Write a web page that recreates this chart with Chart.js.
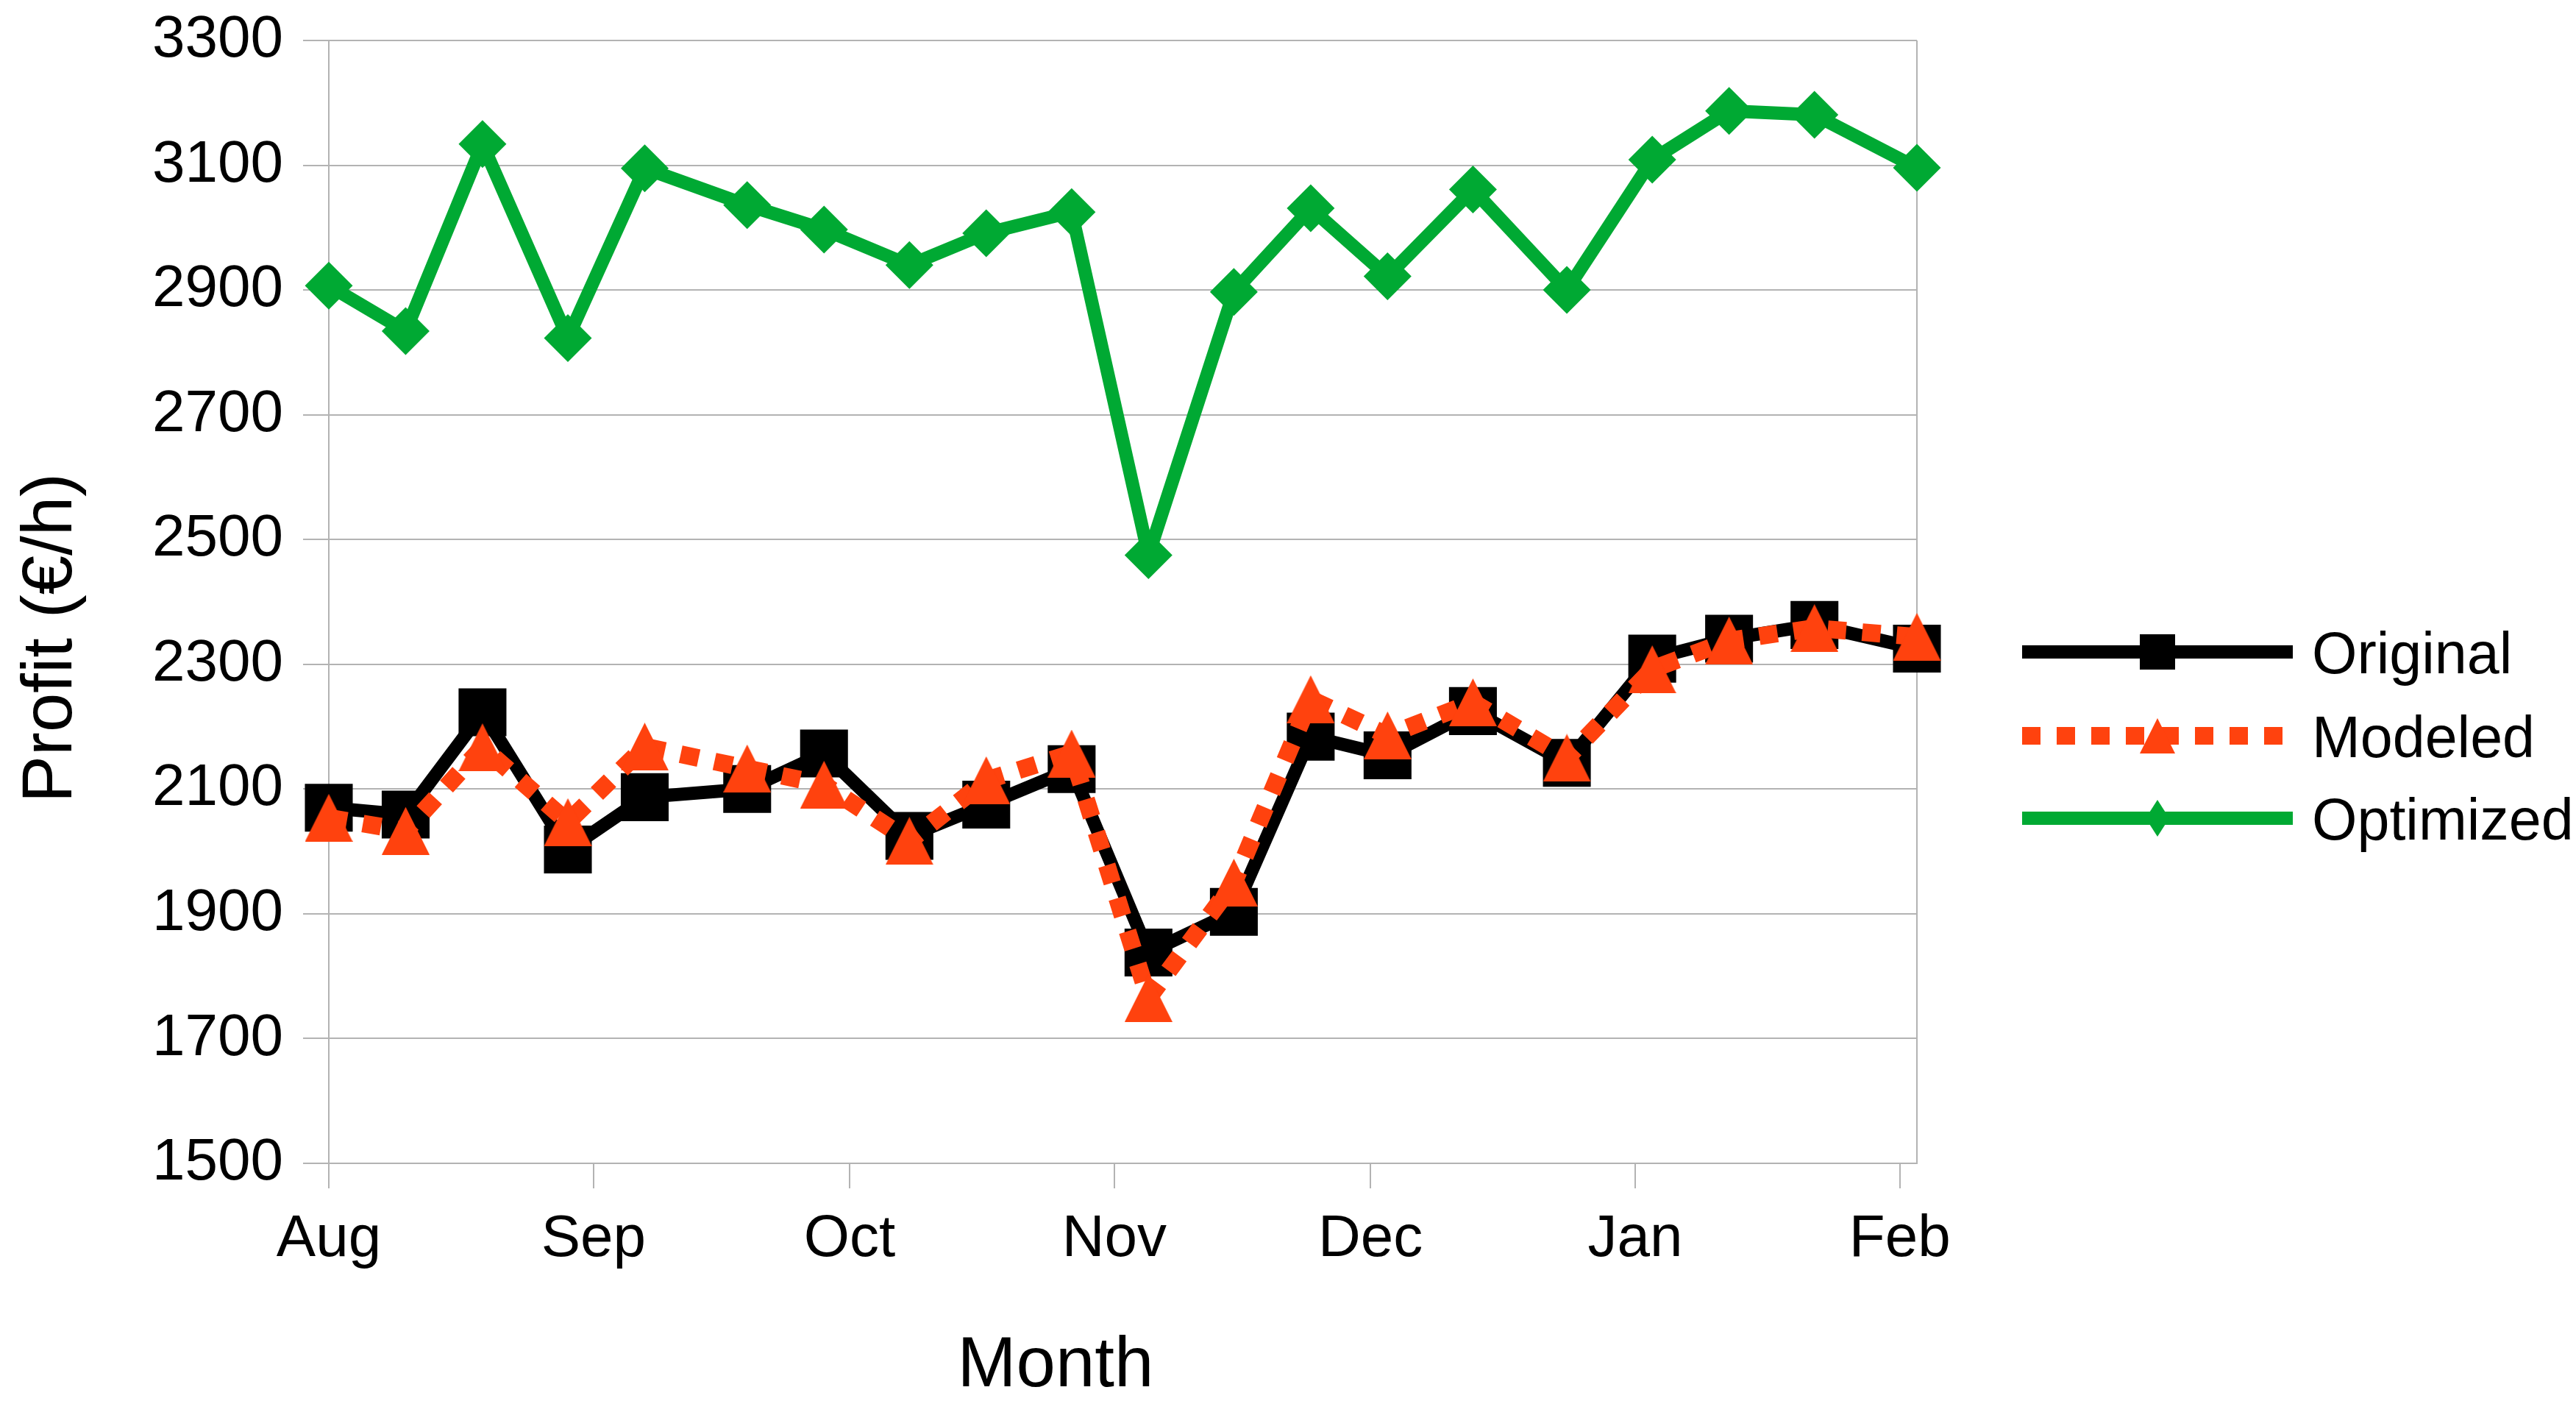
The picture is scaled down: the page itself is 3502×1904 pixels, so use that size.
<!DOCTYPE html>
<html>
<head>
<meta charset="utf-8">
<script src="https://cdn.jsdelivr.net/npm/chart.js@4.4.0/dist/chart.umd.min.js"></script>
<style>
  body { margin: 0; background: #fff; }
  canvas { display: block; }
</style>
</head>
<body>
<canvas id="chart" width="3502" height="1904"></canvas>
<script>
// month ticks, as day offsets from 1 Aug
const monthLabels = ['Aug', 'Sep', 'Oct', 'Nov', 'Dec', 'Jan', 'Feb'];
const monthStarts = [0, 31, 61, 92, 122, 153, 184];

// sample dates (days after 1 Aug)
const days = [0, 9, 18, 28, 37, 49, 58, 68, 77, 87, 96, 106, 115, 124, 134, 145, 155, 164, 174, 186];

const original  = [2070, 2059, 2223, 2003, 2087, 2100, 2157, 2025, 2075, 2132, 1838, 1903, 2184, 2154, 2225, 2142, 2309, 2341, 2363, 2325];
const modeled   = [2054, 2033, 2167, 2047, 2168, 2133, 2107, 2017, 2114, 2157, 1765, 1950, 2244, 2186, 2239, 2150, 2292, 2338, 2358, 2344];
const optimized = [2907, 2834, 3134, 2823, 3095, 3036, 2997, 2940, 2991, 3025, 2475, 2897, 3031, 2922, 3061, 2900, 3109, 3187, 3181, 3096];

const yMin = 1500, yMax = 3300, yStep = 200;

const FONT = "'Liberation Sans', Arial, sans-serif";
const GRID = '#b3b3b3';
const BLACK = '#000000';
const ORANGE = '#ff420e';
const GREEN = '#00a933';

function toPoints(values) {
    return values.map((v, i) => ({x: days[i], y: v}));
}

// triangle marker, centred on its box like the original
function triangleImage(w, h, color) {
    const c = document.createElement('canvas');
    c.width = w;
    c.height = h;
    const g = c.getContext('2d');
    g.fillStyle = color;
    g.beginPath();
    g.moveTo(w / 2, 0);
    g.lineTo(w, h);
    g.lineTo(0, h);
    g.closePath();
    g.fill();
    return c;
}

function drawMarker(ctx, kind, x, y, color) {
    ctx.fillStyle = color;
    ctx.beginPath();
    if (kind === 'square') {
        ctx.rect(x - 24, y - 24, 48, 48);
    } else if (kind === 'triangle') {
        ctx.moveTo(x, y - 24);
        ctx.lineTo(x + 24, y + 24);
        ctx.lineTo(x - 24, y + 24);
    } else {
        ctx.moveTo(x, y - 25);
        ctx.lineTo(x + 16, y);
        ctx.lineTo(x, y + 25);
        ctx.lineTo(x - 16, y);
    }
    ctx.closePath();
    ctx.fill();
}

const legendMarkers = ['square', 'triangle', 'diamond'];

const framePlugin = {
    id: 'frame',
    beforeDatasetsDraw(chart) {
        const {ctx, chartArea: a} = chart;
        ctx.save();
        ctx.strokeStyle = GRID;
        ctx.lineWidth = 2;
        ctx.beginPath();
        ctx.moveTo(a.right, a.top);
        ctx.lineTo(a.right, a.bottom);
        ctx.stroke();
        ctx.restore();
    },
    afterDraw(chart) {
        const ctx = chart.ctx;
        ctx.save();
        ctx.fillStyle = '#000';
        ctx.font = '96px ' + FONT;
        ctx.textAlign = 'center';
        ctx.textBaseline = 'alphabetic';
        ctx.fillText('Month', 1435, 1884);

        ctx.save();
        ctx.translate(97, 867);
        ctx.rotate(-Math.PI / 2);
        ctx.fillText('Profit (€/h)', 0, 0);
        ctx.restore();

        // legend: line with marker in the middle
        const rows = [886, 1000, 1112];
        chart.data.datasets.forEach((ds, i) => {
            const y = rows[i];
            ctx.strokeStyle = ds.borderColor;
            ctx.lineWidth = ds.borderWidth;
            ctx.lineCap = 'butt';
            ctx.setLineDash(ds.borderDash || []);
            ctx.beginPath();
            ctx.moveTo(2749, y);
            ctx.lineTo(3117, y);
            ctx.stroke();
            ctx.setLineDash([]);
            drawMarker(ctx, legendMarkers[i], 2933, y, ds.borderColor);
            ctx.fillStyle = '#000';
            ctx.font = '79px ' + FONT;
            ctx.textAlign = 'left';
            ctx.fillText(ds.label, 3143, y + 29);
        });
        ctx.restore();
    }
};

function renderChart() {
    const ctx = document.getElementById('chart').getContext('2d');
    const tickFont = {family: FONT, size: 80};

    new Chart(ctx, {
        type: 'line',
        data: {
            datasets: [
                {
                    label: 'Original',
                    data: toPoints(original),
                    borderColor: BLACK,
                    backgroundColor: BLACK,
                    borderWidth: 18,
                    borderJoinStyle: 'round',
                    pointStyle: 'rect',
                    pointRadius: 46,
                    pointBorderWidth: 0,
                    pointBackgroundColor: BLACK,
                    order: 3,
                    clip: false
                },
                {
                    label: 'Modeled',
                    data: toPoints(modeled),
                    borderColor: ORANGE,
                    backgroundColor: ORANGE,
                    borderWidth: 24,
                    borderDash: [25, 22],
                    borderCapStyle: 'butt',
                    borderJoinStyle: 'round',
                    pointStyle: triangleImage(65, 65, ORANGE),
                    pointRadius: 33,
                    pointBorderWidth: 0,
                    order: 2,
                    clip: false
                },
                {
                    label: 'Optimized',
                    data: toPoints(optimized),
                    borderColor: GREEN,
                    backgroundColor: GREEN,
                    borderWidth: 18,
                    borderJoinStyle: 'round',
                    pointStyle: 'rectRot',
                    pointRadius: 32.5,
                    pointBorderWidth: 0,
                    pointBackgroundColor: GREEN,
                    order: 1,
                    clip: false
                }
            ]
        },
        options: {
            responsive: false,
            animation: false,
            events: [],
            layout: {padding: {top: 55, right: 896, bottom: 0, left: 0}},
            plugins: {
                legend: {display: false},
                tooltip: {enabled: false}
            },
            scales: {
                x: {
                    type: 'linear',
                    min: 0,
                    max: 186,
                    afterBuildTicks: s => { s.ticks = monthStarts.map(v => ({value: v})); },
                    afterFit: s => {
                        s.height = 323;
                        s.paddingLeft = 0;
                        s.paddingRight = 0;
                    },
                    ticks: {
                        autoSkip: false,
                        maxRotation: 0,
                        padding: 22,
                        font: tickFont,
                        color: '#000',
                        callback: (v, i) => monthLabels[i]
                    },
                    grid: {drawOnChartArea: false, tickLength: 34, color: GRID, lineWidth: 2},
                    border: {color: GRID, width: 2}
                },
                y: {
                    min: yMin,
                    max: yMax,
                    afterFit: s => {
                        s.width = 447;
                        s.paddingTop = 0;
                        s.paddingBottom = 0;
                    },
                    ticks: {
                        stepSize: yStep,
                        padding: 27,
                        font: tickFont,
                        color: '#000',
                        callback: v => String(v)
                    },
                    grid: {color: GRID, lineWidth: 2, tickLength: 35},
                    border: {color: GRID, width: 2}
                }
            }
        },
        plugins: [framePlugin]
    });
}
renderChart();
</script>
</body>
</html>
